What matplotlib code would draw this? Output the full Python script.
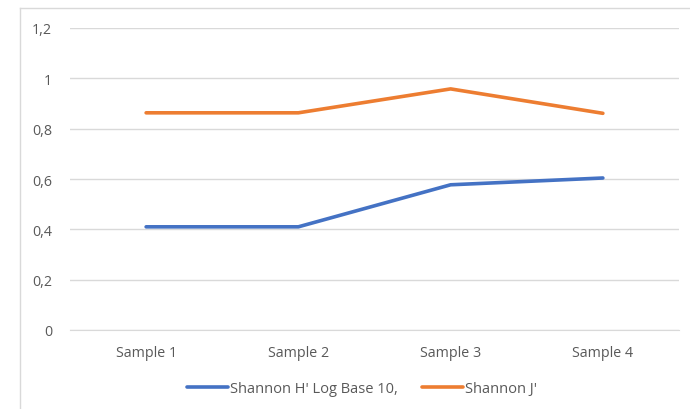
import matplotlib.pyplot as plt
from matplotlib.lines import Line2D
from matplotlib.ticker import FuncFormatter

categories = ["Sample 1", "Sample 2", "Sample 3", "Sample 4"]
shannon_h = [0.41, 0.41, 0.577, 0.604]
shannon_j = [0.863, 0.863, 0.958, 0.861]
series_labels = ["Shannon H' Log Base 10,", "Shannon J'"]
y_ticks = [0, 0.2, 0.4, 0.6, 0.8, 1.0, 1.2]

TEXT = "#595959"
GRID = "#D9D9D9"
plt.rcParams["font.family"] = ["Open Sans", "DejaVu Sans"]

fig = plt.figure(figsize=(6.9, 4.1), dpi=100)
ax = fig.add_axes([70 / 690, 79 / 410, 609 / 690, 302 / 410])

# chart area border (only top and left edges visible in the crop)
fig.add_artist(Line2D([20 / 690, 20 / 690], [0, 401 / 410], color=GRID, lw=1.0))
fig.add_artist(Line2D([20 / 690, 1], [401 / 410, 401 / 410], color=GRID, lw=1.0))

x = list(range(len(categories)))
ax.plot(x, shannon_h, color="#4472C4", lw=2.6, solid_capstyle="round", label=series_labels[0], zorder=3)
ax.plot(x, shannon_j, color="#ED7D31", lw=2.6, solid_capstyle="round", label=series_labels[1], zorder=3)

ax.set_xlim(-0.5, len(categories) - 0.5)
ax.set_ylim(0, 1.2)
ax.set_yticks(y_ticks)
ax.yaxis.set_major_formatter(FuncFormatter(lambda v, _: f"{v:g}".replace(".", ",")))
ax.set_xticks(x)
ax.set_xticklabels(categories)
ax.grid(axis="y", color=GRID, lw=1.0)
ax.set_axisbelow(True)
for side in ["top", "right", "left"]:
    ax.spines[side].set_visible(False)
ax.spines["bottom"].set_color(GRID)
ax.tick_params(axis="both", length=0, colors=TEXT, labelsize=10.3)
ax.tick_params(axis="y", pad=13)
ax.tick_params(axis="x", pad=11)

fig.legend(
    loc="center",
    bbox_to_anchor=(362 / 690, 20 / 410),
    ncol=2,
    frameon=False,
    fontsize=10.5,
    labelcolor=TEXT,
    handlelength=2.8,
    handletextpad=0.1,
    columnspacing=1.7,
)

fig.savefig("out.png", dpi=100)
